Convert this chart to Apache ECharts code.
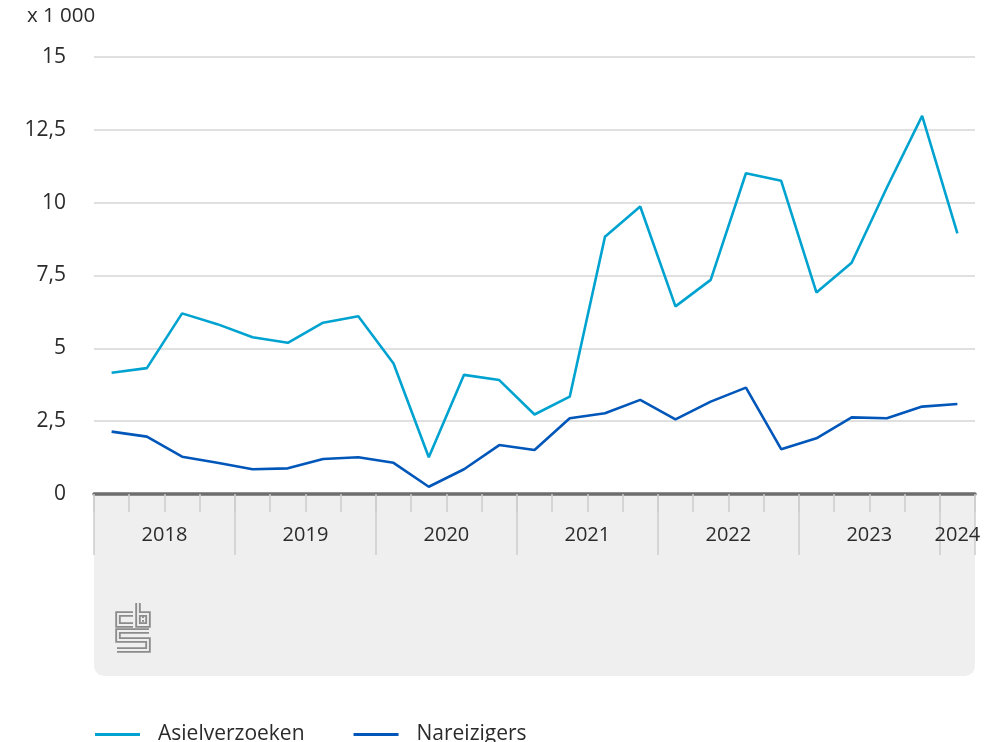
<!DOCTYPE html>
<html>
<head>
<meta charset="utf-8">
<script src="https://cdn.jsdelivr.net/npm/echarts@6/dist/echarts.min.js"></script>
<style>
html,body{margin:0;padding:0;background:#fff;}
#chart{width:997px;height:742px;}
</style>
</head>
<body>
<div id="chart"></div>
<script>
const quarters = [
  '2018 K1','2018 K2','2018 K3','2018 K4',
  '2019 K1','2019 K2','2019 K3','2019 K4',
  '2020 K1','2020 K2','2020 K3','2020 K4',
  '2021 K1','2021 K2','2021 K3','2021 K4',
  '2022 K1','2022 K2','2022 K3','2022 K4',
  '2023 K1','2023 K2','2023 K3','2023 K4',
  '2024 K1'
];
const years = ['2018','2019','2020','2021','2022','2023','2024'];
const asielverzoeken = [
  4.16, 4.32, 6.20, 5.83,
  5.38, 5.19, 5.88, 6.10,
  4.48, 1.26, 4.09, 3.91,
  2.73, 3.34, 8.83, 9.87,
  6.44, 7.35, 11.01, 10.75,
  6.92, 7.94, 10.52, 12.98,
  8.95
];
const nareizigers = [
  2.14, 1.97, 1.28, 1.07,
  0.85, 0.88, 1.20, 1.26,
  1.07, 0.25, 0.85, 1.68,
  1.51, 2.60, 2.77, 3.23,
  2.56, 3.17, 3.65, 1.54,
  1.91, 2.63, 2.60, 3.00,
  3.09
];
const yTickLabels = ['0','2,5','5','7,5','10','12,5','15'];
const unitLabel = 'x 1 000';

const FONT = '"Open Sans", sans-serif';
const TXT = '#2b2b2b';

// year label centers (in quarter units)
const yearCenters = {};
years.forEach(y => {
  const idx = quarters.map((q,i)=>q.startsWith(y)?i:-1).filter(i=>i>=0);
  const c = idx[0] + idx.length/2;
  yearCenters[c.toFixed(2)] = y;
});

const chart = echarts.init(document.getElementById('chart'));

const G = {left:94, right:22, top:57, bottom:248};
const panelTop = 742 - G.bottom;
const panelW = 997 - G.left - G.right;

function logoPts(){
  return [
    [[133,614],[118,614],[118,625],[133,625]],
    [[138,603],[138,625],[148,625],[148,614],[138,614]],
    [[142,619],[144,619]],
    [[149,631],[118,631],[118,640],[148,640],[148,650],[117,650]]
  ];
}
const logoEls = [];
logoPts().forEach(p => {
  logoEls.push({type:'polyline', z:-5, shape:{points:p}, style:{stroke:'#8c8c8c', lineWidth:5.5, fill:null, lineJoin:'miter', lineCap:'butt'}});
});
logoPts().forEach(p => {
  logoEls.push({type:'polyline', z:-4, shape:{points:p}, style:{stroke:'#efefef', lineWidth:1.8, fill:null, lineJoin:'miter', lineCap:'butt'}});
});

chart.setOption({
  animation:false,
  backgroundColor:'#fff',
  textStyle:{fontFamily:FONT},
  grid:G,
  graphic:[
    {type:'rect', z:-10, shape:{x:G.left, y:panelTop, width:panelW, height:182, r:[0,0,10,10]}, style:{fill:'#efefef'}},
    {type:'text', left:27, top:6, style:{text:unitLabel, font:'20.5px "Open Sans"', fill:TXT}}
  ].concat(logoEls),
  legend:{
    left:90, top:719, itemWidth:45, itemHeight:14, itemGap:49,
    data:[
      {name:'Asielverzoeken', icon:'path://M0,0L45,0L45,3L0,3Z', itemStyle:{color:'#00a3d0'}},
      {name:'Nareizigers', icon:'path://M0,0L45,0L45,3L0,3Z', itemStyle:{color:'#0157b9'}}
    ],
    textStyle:{fontFamily:FONT, fontSize:21, color:TXT, padding:[0,0,0,13]}
  },
  xAxis:[
    {
      type:'category', data:quarters, boundaryGap:true,
      axisLine:{show:true, lineStyle:{color:'#6e6e6e', width:3.5}},
      axisTick:{show:true, interval:0, length:18, lineStyle:{color:'#cdcdcd', width:1.5}},
      axisLabel:{show:false}, splitLine:{show:false}, z:5
    },
    {
      type:'value', min:0, max:quarters.length, interval:4, position:'bottom',
      axisLine:{show:false},
      axisTick:{show:true, length:61, lineStyle:{color:'#cdcdcd', width:1.5}},
      axisLabel:{show:false}, splitLine:{show:false}
    },
    {
      type:'value', min:0, max:quarters.length, interval:0.5, position:'bottom',
      axisLine:{show:false}, axisTick:{show:false}, splitLine:{show:false},
      axisLabel:{show:true, margin:31, fontFamily:FONT, fontSize:20, color:TXT,
        showMinLabel:true, showMaxLabel:true,
        formatter:v => yearCenters[v.toFixed(2)] || ''}
    }
  ],
  yAxis:{
    type:'value', min:0, max:15, interval:2.5,
    axisLine:{show:false}, axisTick:{show:false},
    axisLabel:{margin:28, fontFamily:FONT, fontSize:21, color:TXT, padding:[8,0,0,0],
      formatter:(v)=> yTickLabels[Math.round(v/2.5)]},
    splitLine:{lineStyle:{color:'#d6d6d6', width:1.5}}
  },
  series:[
    {name:'Asielverzoeken', type:'line', data:asielverzoeken, xAxisIndex:0, symbol:'none',
      lineStyle:{color:'#00a3d0', width:2.6}, itemStyle:{color:'#00a3d0'}, z:3},
    {name:'Nareizigers', type:'line', data:nareizigers, xAxisIndex:0, symbol:'none',
      lineStyle:{color:'#0157b9', width:2.6}, itemStyle:{color:'#0157b9'}, z:4}
  ]
});
</script>
</body>
</html>
